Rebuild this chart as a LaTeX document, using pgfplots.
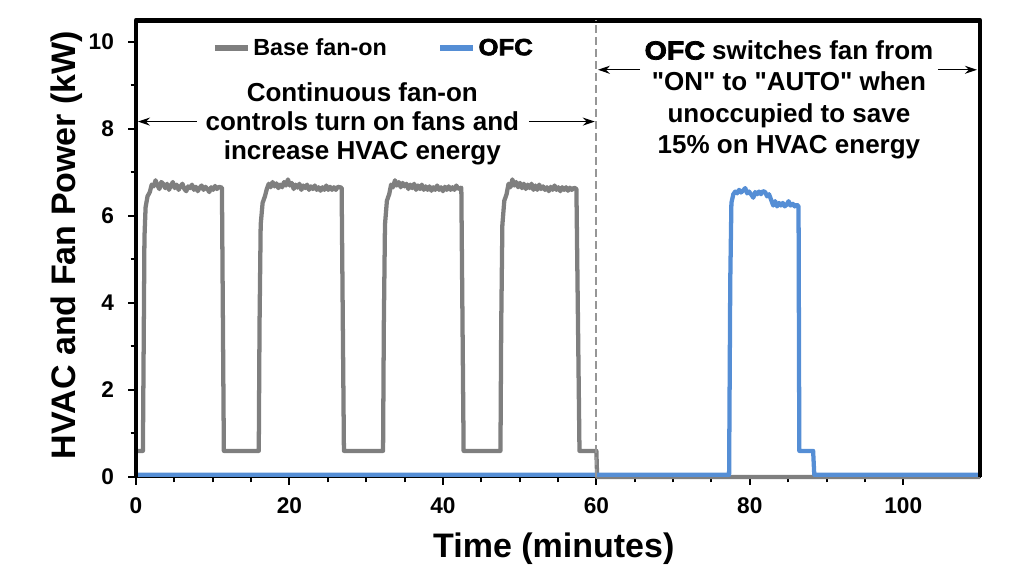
\documentclass[border=0pt]{standalone}
\usepackage{pgfplots}
\pgfplotsset{compat=1.18}
\usepackage{fontspec}
\setmainfont{Liberation Sans}[Ligatures=TeXOff]
\newfontfamily\ofcfont[FakeBold=3,FakeStretch=1.1]{Liberation Sans Bold}
\usetikzlibrary{arrows.meta}

\definecolor{basegray}{RGB}{127,127,127}
\definecolor{ofcblue}{RGB}{85,142,213}
\definecolor{dashgray}{RGB}{150,150,150}

\begin{document}
\begin{tikzpicture}
\useasboundingbox (0pt,0pt) rectangle (775.5pt,435pt);
\begin{axis}[
    at={(102pt,77.25pt)}, anchor=south west,
    scale only axis,
    width=633pt, height=342.6pt,
    xmin=0, xmax=110, ymin=0, ymax=10.5,
    clip=false,
    xtick={0,20,...,100}, minor x tick num=3,
    ytick={0,2,...,10}, minor y tick num=1,
    tick pos=left, tick align=outside,
    major tick length=6pt, minor tick length=4pt,
    every tick/.style={black, line width=1.5pt},
    axis line style={black, line width=1.5pt},
    /pgf/number format/assume math mode=true,
    ticklabel style={font=\fontsize{17}{20}\selectfont\bfseries},
    yticklabel style={xshift=-7pt},
    xticklabel style={yshift=-6pt},
    xlabel={Time (minutes)},
    ylabel={HVAC and Fan Power (kW)},
    label style={font=\fontsize{25.5}{30}\selectfont\bfseries},
    xlabel style={at={(axis description cs:0.495,-0.158)}, anchor=center},
    ylabel style={at={(axis description cs:-0.082,0.508)}, anchor=center},
    legend columns=2,
    legend style={draw=none, fill=none, inner sep=0pt,
        at={(axis cs:9.9,9.86)}, anchor=west,
        font=\fontsize{17.5}{20}\selectfont\bfseries,
        /tikz/every even column/.append style={column sep=36pt}},
    legend image code/.code={\draw[#1, line width=3.8pt] (0pt,0pt) -- (25pt,0pt);},
]

% Base fan-on (continuous fan)
\addplot[basegray, line width=3.2pt, line join=round] coordinates {
(0,0.6) (0.9,0.6) (1.0,3.0) (1.1,5.5) (1.25,6.2) (1.5,6.45) (1.8,6.55) (2.05,6.72) (2.3,6.68)
(2.55,6.82) (2.8,6.7) (3.05,6.62) (3.3,6.78) (3.55,6.74) (3.8,6.64) (4.05,6.74) (4.3,6.6) (4.55,6.7)
(4.8,6.78) (5.05,6.64) (5.3,6.72) (5.55,6.6) (5.8,6.68) (6.05,6.74) (6.3,6.62) (6.55,6.57) (6.8,6.68)
(7.05,6.64) (7.3,6.72) (7.55,6.6) (7.8,6.67) (8.05,6.57) (8.3,6.65) (8.55,6.7) (8.8,6.6) (9.05,6.67)
(9.3,6.62) (9.55,6.55) (9.8,6.66) (10.05,6.6) (10.3,6.69) (10.55,6.62) (10.8,6.67) (11.2,6.65) (11.45,0.6)
(16.0,0.6) (16.1,3.5) (16.25,5.8) (16.5,6.3) (16.8,6.45) (17.05,6.62) (17.3,6.74) (17.55,6.66)
(17.8,6.78) (18.05,6.68) (18.3,6.75) (18.55,6.64) (18.8,6.72) (19.05,6.66) (19.3,6.78) (19.55,6.7)
(19.8,6.84) (20.05,6.7) (20.3,6.76) (20.55,6.62) (20.8,6.72) (21.05,6.65) (21.3,6.74) (21.55,6.6)
(21.8,6.7) (22.05,6.64) (22.3,6.72) (22.55,6.6) (22.8,6.68) (23.05,6.62) (23.3,6.7) (23.55,6.6)
(23.8,6.66) (24.05,6.58) (24.3,6.66) (24.55,6.6) (24.8,6.7) (25.05,6.6) (25.3,6.67) (25.55,6.6)
(25.8,6.66) (26.05,6.6) (26.3,6.67) (26.8,6.65) (27.1,0.6)
(32.2,0.6) (32.3,3.5) (32.45,5.8) (32.7,6.35) (33.0,6.5) (33.25,6.72) (33.5,6.66) (33.75,6.82)
(34.0,6.7) (34.25,6.78) (34.5,6.66) (34.75,6.76) (35.0,6.68) (35.25,6.74) (35.5,6.62) (35.75,6.72)
(36.0,6.64) (36.25,6.74) (36.5,6.6) (36.75,6.7) (37.0,6.62) (37.25,6.72) (37.5,6.6) (37.75,6.68)
(38.0,6.6) (38.25,6.68) (38.5,6.58) (38.75,6.66) (39.0,6.6) (39.25,6.7) (39.5,6.6) (39.75,6.66)
(40.0,6.57) (40.25,6.67) (40.5,6.6) (40.75,6.68) (41.0,6.6) (41.25,6.66) (41.5,6.6) (41.75,6.7)
(42.0,6.62) (42.4,6.65) (42.7,0.6)
(47.5,0.6) (47.6,3.5) (47.75,5.8) (48.0,6.35) (48.3,6.5) (48.55,6.74) (48.8,6.66) (49.05,6.84)
(49.3,6.7) (49.55,6.78) (49.8,6.66) (50.05,6.76) (50.3,6.64) (50.55,6.74) (50.8,6.62) (51.05,6.72)
(51.3,6.64) (51.55,6.74) (51.8,6.6) (52.05,6.7) (52.3,6.6) (52.55,6.72) (52.8,6.62) (53.05,6.68)
(53.3,6.6) (53.55,6.66) (53.8,6.57) (54.05,6.67) (54.3,6.6) (54.55,6.7) (54.8,6.6) (55.05,6.66)
(55.3,6.57) (55.55,6.66) (55.8,6.6) (56.05,6.66) (56.3,6.58) (56.55,6.65) (56.8,6.6) (57.1,6.65)
(57.4,6.62) (57.8,0.6)
(60.0,0.6) (60.1,0) (110,0)
};
\addlegendentry{Base fan-on}

% OFC
\addplot[ofcblue, line width=3.2pt, line join=round] coordinates {
(0,0.05) (77.3,0.05) (77.45,4.5) (77.6,6.3) (77.85,6.5) (78.1,6.56) (78.35,6.52) (78.6,6.6)
(78.85,6.54) (79.1,6.58) (79.4,6.64) (79.65,6.52) (79.9,6.56) (80.15,6.5) (80.45,6.42) (80.7,6.55)
(80.95,6.5) (81.2,6.56) (81.45,6.5) (81.7,6.57) (82.0,6.55) (82.25,6.45) (82.5,6.5) (82.8,6.36)
(83.05,6.24) (83.3,6.34) (83.55,6.22) (83.8,6.3) (84.05,6.24) (84.3,6.3) (84.55,6.22) (84.8,6.26)
(85.05,6.34) (85.3,6.24) (85.6,6.28) (85.85,6.22) (86.1,6.26) (86.35,6.22) (86.45,0.6) (88.25,0.6)
(88.4,0.05) (110,0.05)
};
\addlegendentry{\ofcfont OFC}

% frame
\draw[black, line width=3.6pt, line join=round]
    (rel axis cs:0,0) -- (rel axis cs:0,1) -- (rel axis cs:1,1) -- (rel axis cs:1,0);
\draw[dashgray, line width=1.4pt, dash pattern=on 6pt off 3pt] (axis cs:60,0) -- (axis cs:60,10.5);

% annotations
\draw[-{Stealth[length=9pt,width=6pt]}, line width=1pt] (axis cs:7.9,8.17) -- (axis cs:0.25,8.17);
\draw[-{Stealth[length=9pt,width=6pt]}, line width=1pt] (axis cs:51.2,8.17) -- (axis cs:59.8,8.17);
\draw[-{Stealth[length=9pt,width=6pt]}, line width=1pt] (axis cs:65.7,9.36) -- (axis cs:60.2,9.36);
\draw[-{Stealth[length=9pt,width=6pt]}, line width=1pt] (axis cs:104.5,9.36) -- (axis cs:109.6,9.36);
\node[align=center, font=\fontsize{19.5}{22}\selectfont\bfseries] at (axis cs:29.5,8.12)
    {Continuous fan-on\\controls turn on fans and\\increase HVAC energy};
\node[align=center, font=\fontsize{19.5}{23.5}\selectfont\bfseries] at (axis cs:85.1,8.67)
    {{\ofcfont OFC} switches fan from\\"ON" to "AUTO" when\\unoccupied to save\\15\% on HVAC energy};
\end{axis}
\end{tikzpicture}
\end{document}
